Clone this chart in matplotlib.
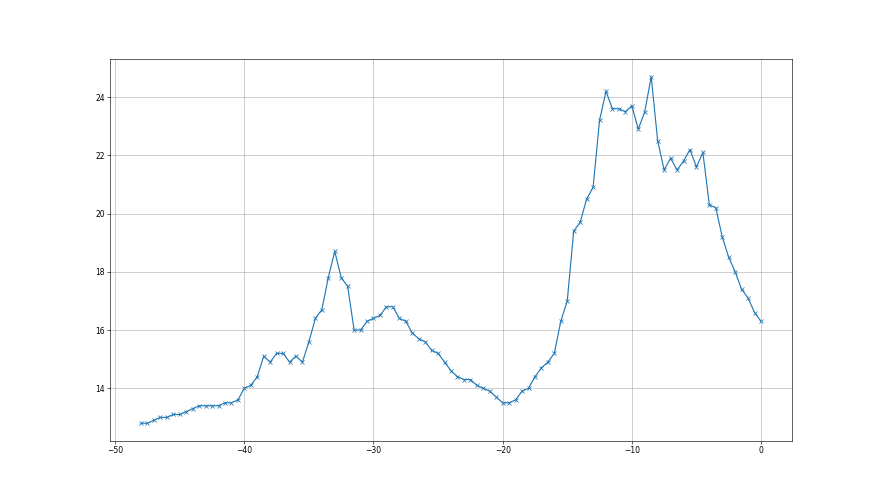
import numpy as np
import matplotlib
matplotlib.use("Agg")
import matplotlib.pyplot as plt

x_start = -48.0
x_step = 0.5
values = [
    12.8, 12.8, 12.9, 13.0, 13.0, 13.1, 13.1, 13.2, 13.3, 13.4, 13.4, 13.4, 13.4, 13.5, 13.5, 13.6,
    14.0, 14.1, 14.4, 15.1, 14.9, 15.2, 15.2, 14.9, 15.1, 14.9, 15.6, 16.4, 16.7, 17.8, 18.7, 17.8,
    17.5, 16.0, 16.0, 16.3, 16.4, 16.5, 16.8, 16.8, 16.4, 16.3, 15.9, 15.7, 15.6, 15.3, 15.2, 14.9,
    14.6, 14.4, 14.3, 14.3, 14.1, 14.0, 13.9, 13.7, 13.5, 13.5, 13.6, 13.9, 14.0, 14.4, 14.7, 14.9,
    15.2, 16.3, 17.0, 19.4, 19.7, 20.5, 20.9, 23.2, 24.2, 23.6, 23.6, 23.5, 23.7, 22.9, 23.5, 24.7,
    22.5, 21.5, 21.9, 21.5, 21.8, 22.2, 21.6, 22.1, 20.3, 20.2, 19.2, 18.5, 18.0, 17.4, 17.1, 16.6,
    16.3,
]
x = x_start + x_step * np.arange(len(values))

fig, ax = plt.subplots(figsize=(16, 9), dpi=55)
ax.plot(x, values, marker="x")
ax.grid(True)
fig.savefig("out.png", dpi=55)
